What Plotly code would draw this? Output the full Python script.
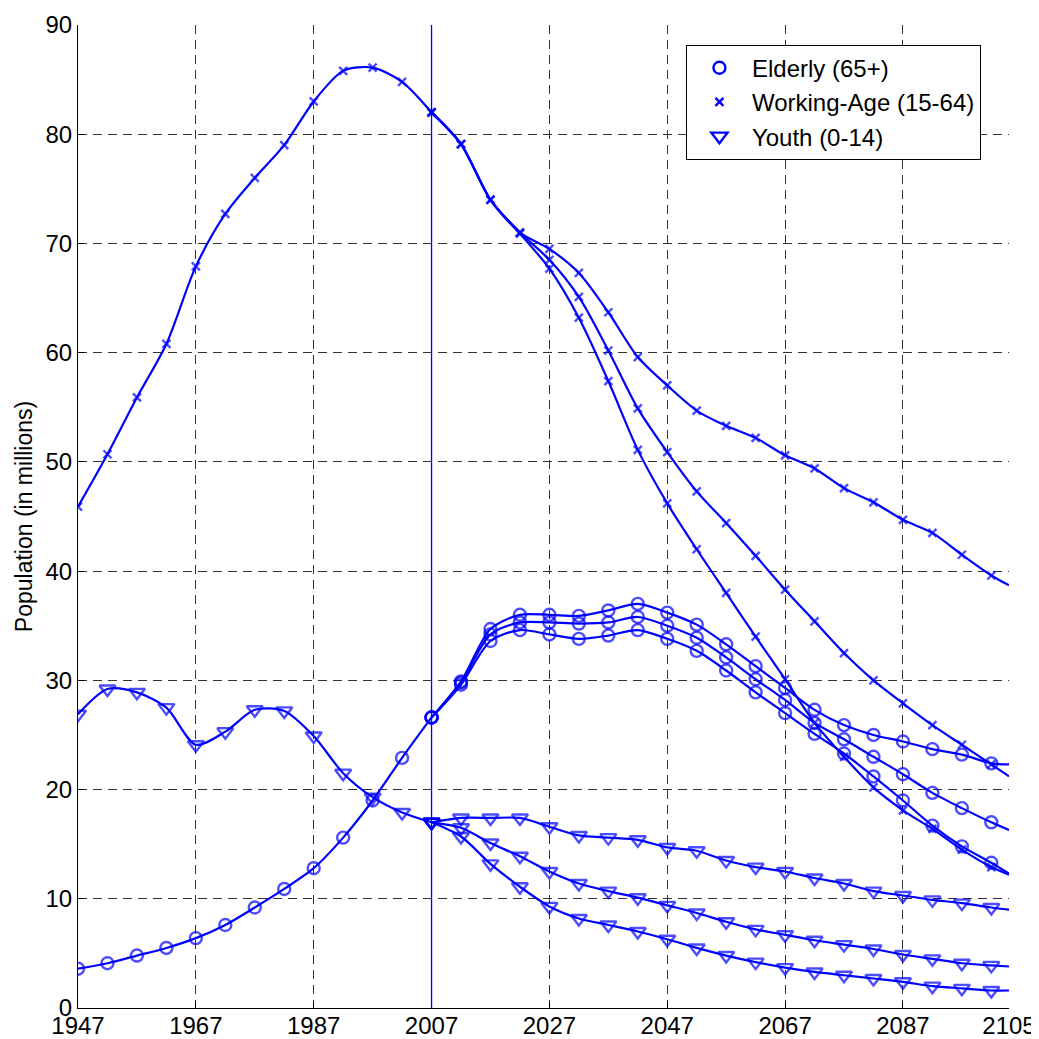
import plotly.graph_objects as go

# ---------------- data ----------------
hist_years = [1947, 1952, 1957, 1962, 1967, 1972, 1977, 1982, 1987, 1992, 1997, 2002, 2007]
working_hist = [45.9, 50.7, 55.9, 60.8, 67.9, 72.7, 76.0, 79.0, 83.0, 85.8, 86.1, 84.8, 82.0]
elderly_hist = [3.6, 4.1, 4.8, 5.5, 6.4, 7.6, 9.2, 10.9, 12.8, 15.6, 19.0, 22.9, 26.6]
youth_hist = [26.9, 29.2, 28.9, 27.5, 24.1, 25.3, 27.3, 27.2, 24.9, 21.5, 19.3, 17.9, 17.0]

proj_years = [2007, 2012, 2017, 2022, 2027, 2032, 2037, 2042, 2047, 2052, 2057,
              2062, 2067, 2072, 2077, 2082, 2087, 2092, 2097, 2102, 2105]
working_high = [82.0, 79.1, 74.0, 71.0, 69.5, 67.3, 63.7, 59.6, 57.0, 54.7, 53.3,
                52.2, 50.6, 49.4, 47.6, 46.3, 44.7, 43.5, 41.5, 39.6, 38.7]
working_mid = [82.0, 79.1, 74.0, 71.0, 68.5, 65.1, 60.2, 54.9, 50.9, 47.3, 44.4,
               41.4, 38.3, 35.4, 32.5, 30.0, 27.9, 25.9, 24.1, 22.3, 21.2]
working_low = [82.0, 79.1, 74.0, 70.9, 67.7, 63.2, 57.4, 51.1, 46.2, 42.0, 38.0,
               34.0, 30.1, 26.1, 23.0, 20.2, 18.1, 16.4, 14.5, 12.9, 12.2]
elderly_high = [26.6, 29.9, 34.7, 36.0, 36.0, 35.9, 36.4, 37.0, 36.2, 35.1, 33.3,
                31.3, 29.3, 27.3, 25.9, 25.0, 24.4, 23.7, 23.2, 22.4, 22.3]
elderly_mid = [26.6, 29.8, 34.2, 35.3, 35.3, 35.2, 35.3, 35.8, 35.0, 33.9, 32.1,
               30.1, 28.2, 26.1, 24.6, 23.0, 21.4, 19.7, 18.3, 17.0, 16.3]
elderly_low = [26.6, 29.6, 33.6, 34.6, 34.2, 33.8, 34.1, 34.6, 33.8, 32.7, 30.9,
               28.9, 27.0, 25.1, 23.3, 21.2, 19.0, 16.7, 14.8, 13.3, 12.3]
youth_high = [17.0, 17.4, 17.4, 17.4, 16.6, 15.8, 15.6, 15.4, 14.7, 14.4, 13.5,
              12.9, 12.5, 11.9, 11.4, 10.7, 10.3, 9.9, 9.6, 9.2, 9.0]
youth_mid = [17.0, 16.5, 15.1, 13.9, 12.5, 11.4, 10.7, 10.1, 9.4, 8.7, 7.9,
             7.2, 6.7, 6.2, 5.8, 5.4, 4.9, 4.5, 4.1, 3.9, 3.8]
youth_low = [17.0, 15.7, 13.2, 11.1, 9.3, 8.2, 7.6, 7.0, 6.3, 5.5, 4.8,
             4.2, 3.7, 3.3, 3.0, 2.7, 2.4, 2.0, 1.8, 1.6, 1.6]

x_ticks = [1947, 1967, 1987, 2007, 2027, 2047, 2067, 2087, 2105]
y_ticks = [0, 10, 20, 30, 40, 50, 60, 70, 80, 90]
x_range = [1947, 2105]
y_range = [0, 90]
projection_start = 2007

series_names = ["Elderly (65+)", "Working-Age (15-64)", "Youth (0-14)"]

# ---------------- style ----------------
BLUE = "#0000FF"
FONT = "Liberation Sans, Arial, sans-serif"
symbols = {"el": "circle-open", "wa": "x-thin-open", "yo": "triangle-down-open"}
msizes = {"el": 12, "wa": 8, "yo": 14}

fig = go.Figure()


def add_series(xs, ys, key, marker_last=True):
    n = len(xs)
    sizes = [msizes[key]] * n
    if not marker_last:
        sizes[-1] = 0
    fig.add_trace(go.Scatter(
        x=xs, y=ys, mode="lines+markers", showlegend=False,
        line=dict(color=BLUE, width=2.2, shape="spline", smoothing=0.8),
        marker=dict(symbol=symbols[key], size=sizes, color=BLUE,
                    line=dict(color=BLUE, width=2.4)),
        hoverinfo="x+y",
    ))


add_series(hist_years, working_hist, "wa")
add_series(hist_years, elderly_hist, "el")
add_series(hist_years, youth_hist, "yo")
for ys in (working_high, working_mid, working_low):
    add_series(proj_years, ys, "wa", marker_last=False)
for ys in (elderly_high, elderly_mid, elderly_low):
    add_series(proj_years, ys, "el", marker_last=False)
for ys in (youth_high, youth_mid, youth_low):
    add_series(proj_years, ys, "yo", marker_last=False)

# legend-only entries (markers only)
for name, key in zip(series_names, ["el", "wa", "yo"]):
    fig.add_trace(go.Scatter(
        x=[None], y=[None], mode="markers", name=name,
        marker=dict(symbol=symbols[key], size=msizes[key], color=BLUE,
                    line=dict(color=BLUE, width=2.4)),
    ))

# vertical line marking start of projections
fig.add_shape(type="line", x0=projection_start, x1=projection_start,
              y0=y_range[0], y1=y_range[1], xref="x", yref="y",
              line=dict(color=BLUE, width=1.3), layer="above")

axis_common = dict(
    showgrid=True, gridcolor="#333333", gridwidth=1, griddash="9px,6px",
    showline=True, linecolor="black", linewidth=1, mirror=False,
    ticks="inside", ticklen=6, tickcolor="black", tickwidth=1,
    zeroline=False, tickfont=dict(family=FONT, size=24, color="black"),
)

fig.update_xaxes(range=x_range, tickvals=x_ticks, ticktext=[str(v) for v in x_ticks],
                 ticklabelstandoff=-4, **axis_common)
fig.update_yaxes(range=y_range, tickvals=y_ticks,
                 title=dict(text="Population (in millions)",
                            font=dict(family=FONT, size=23, color="black"),
                            standoff=6),
                 ticklabelstandoff=0, **axis_common)

# page body has an 8px margin, so the figure is shrunk/shifted to match
fig.update_layout(
    width=1031, height=1031,
    margin=dict(l=70, r=30, t=17, b=31, autoexpand=False),
    paper_bgcolor="white", plot_bgcolor="white",
    font=dict(family=FONT, size=24, color="black"),
    legend=dict(x=0.653, y=0.98, xanchor="left", yanchor="top",
                bgcolor="white", bordercolor="black", borderwidth=1,
                font=dict(family=FONT, size=24, color="black"),
                itemwidth=55, tracegroupgap=0),
)

fig.write_html("out.html")
